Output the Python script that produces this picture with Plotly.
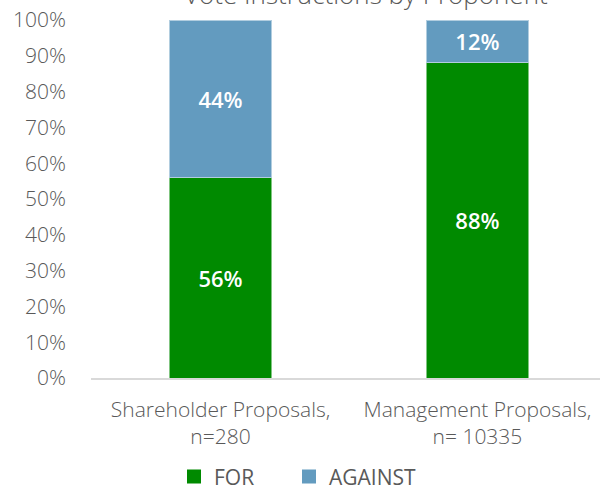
import plotly.graph_objects as go

categories = ["Shareholder Proposals,<br>n=280", "Management Proposals,<br>n= 10335"]
for_values = [0.56, 0.88]
against_values = [0.44, 0.12]
y_ticks = [0, 0.1, 0.2, 0.3, 0.4, 0.5, 0.6, 0.7, 0.8, 0.9, 1.0]
y_tick_labels = ["0%", "10%", "20%", "30%", "40%", "50%", "60%", "70%", "80%", "90%", "100%"]

GREEN = "#008A00"
BLUE = "#639BBF"
GREY = "#595959"
FONT = "Open Sans"

fig = go.Figure()
for name, vals, color, leg in [("FOR", for_values, GREEN, "legend"),
                               ("AGAINST", against_values, BLUE, "legend2")]:
    fig.add_trace(go.Bar(
        name=name, x=categories, y=vals, marker_color=color,
        marker_line=dict(color="rgba(255,255,255,0.5)", width=1),
        text=[f"{round(v*100)}%" for v in vals], textposition="inside",
        insidetextanchor="middle", textangle=0, showlegend=False,
        textfont=dict(color="white", size=22, family=FONT, weight=600), width=0.4,
    ))
    # legend proxy (square swatch)
    fig.add_trace(go.Scatter(
        name=name, x=[categories[0]], y=[None], mode="markers", legend=leg,
        marker=dict(symbol="square", size=14, color=color), hoverinfo="skip",
    ))

leg_common = dict(orientation="h", xanchor="left", y=0.021, yanchor="middle",
                  yref="container", font=dict(size=21, color=GREY),
                  itemwidth=30, bgcolor="rgba(0,0,0,0)")

fig.update_layout(
    barmode="stack",
    width=600, height=487,
    margin=dict(l=91, r=0, t=20, b=109, autoexpand=False),
    plot_bgcolor="white", paper_bgcolor="white",
    font=dict(family=FONT, color=GREY, size=18),
    uniformtext=dict(mode="show", minsize=22),
    showlegend=True,
    legend=dict(x=(174 - 91) / 509, **leg_common),
    legend2=dict(x=(289 - 91) / 509, **leg_common),
    annotations=[dict(text="Vote Instructions by Proponent", xref="paper", yref="paper",
                      x=0.54, y=1.0, yanchor="middle", yshift=26, showarrow=False,
                      font=dict(size=26, color=GREY, family=FONT, weight=300))],
)
fig.update_xaxes(range=[-0.504, 1.477], showline=True, linecolor="#D9D9D9", linewidth=1.5,
                 showgrid=False, ticks="", automargin=False, ticklabelstandoff=12,
                 tickfont=dict(size=21, color=GREY, weight=300))
fig.update_yaxes(range=[0, 1], tickvals=y_ticks, ticktext=y_tick_labels, showgrid=False,
                 zeroline=False, showline=False, ticks="", ticklabelstandoff=24,
                 ticklabeloverflow="allow", automargin=False,
                 tickfont=dict(size=21, color=GREY, weight=300))

fig.write_html("out.html", config={"displayModeBar": False},
               post_script="document.body.style.margin='0';document.body.style.overflow='hidden';")
